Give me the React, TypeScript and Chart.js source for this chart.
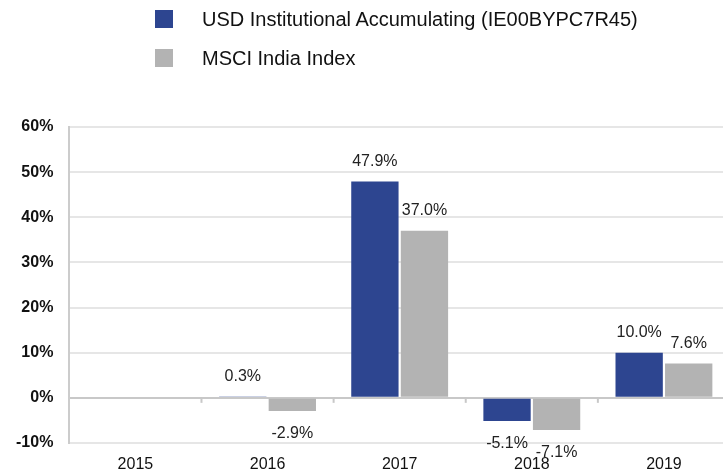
import React, { useEffect, useRef } from "react";
import { Chart, registerables } from "chart.js";

Chart.register(...registerables);

const categories = ["2015", "2016", "2017", "2018", "2019"];
const fundLabel = "USD Institutional Accumulating (IE00BYPC7R45)";
const indexLabel = "MSCI India Index";
const fundReturns: (number | null)[] = [null, 0.3, 47.9, -5.1, 10.0];
const indexReturns: (number | null)[] = [null, -2.9, 37.0, -7.1, 7.6];
const yMin = -10;
const yMax = 60;
const yStep = 10;

const BLUE = "#2d4590";
const GRAY = "#b3b3b3";
const FONT = "'Liberation Sans', Arial, Helvetica, sans-serif";

const valueLabels = {
  id: "valueLabels",
  afterDatasetsDraw(chart: any) {
    const ctx = chart.ctx;
    ctx.save();
    ctx.font = `16px ${FONT}`;
    ctx.fillStyle = "#222";
    ctx.textAlign = "center";
    ctx.textBaseline = "middle";
    chart.data.datasets.forEach((ds: any, di: number) => {
      const meta = chart.getDatasetMeta(di);
      meta.data.forEach((el: any, i: number) => {
        const v = ds.data[i];
        if (v === null || v === undefined) return;
        const y = v >= 0 ? el.y - 20 : el.y + 23;
        ctx.fillText(v.toFixed(1) + "%", el.x, y);
      });
    });
    ctx.restore();
  },
};

const extras = {
  id: "extras",
  afterDraw(chart: any) {
    const ctx = chart.ctx;
    const x = chart.scales.x;
    const y = chart.scales.y;
    const y0 = y.getPixelForValue(0);
    ctx.save();
    ctx.strokeStyle = "#c8c8c8";
    ctx.lineWidth = 2;
    const n = categories.length;
    const step = (x.right - x.left) / n;
    for (let i = 1; i <= n; i++) {
      const px = x.left + step * i;
      ctx.beginPath();
      ctx.moveTo(px, y0);
      ctx.lineTo(px, y0 + 5);
      ctx.stroke();
    }
    ctx.restore();
  },
};

export default function App() {
  const ref = useRef<HTMLCanvasElement>(null);
  useEffect(() => {
    if (!ref.current) return;
    const chart = new Chart(ref.current, {
      type: "bar",
      data: {
        labels: categories,
        datasets: [
          { label: fundLabel, data: fundReturns, backgroundColor: BLUE },
          { label: indexLabel, data: indexReturns, backgroundColor: GRAY },
        ],
      },
      options: {
        animation: false,
        responsive: false,
        devicePixelRatio: 1,
        layout: { padding: { top: 127, left: 0, right: 10, bottom: 0 } },
        datasets: { bar: { categoryPercentage: 0.75, barPercentage: 0.955 } },
        plugins: { legend: { display: false }, tooltip: { enabled: false } },
        scales: {
          x: {
            grid: { display: false },
            border: { display: false },
            ticks: { color: "#111", font: { family: FONT, size: 16 }, padding: 4 },
            afterFit: (scale: any) => {
              scale.height = 30;
            },
          },
          y: {
            min: yMin,
            max: yMax,
            ticks: {
              stepSize: yStep,
              color: "#111",
              padding: 16,
              font: { family: FONT, size: 16, weight: "bold" },
              callback: (v: any) => `${v}%`,
            },
            grid: {
              drawTicks: false,
              lineWidth: 2,
              color: (c: any) => (c.tick && c.tick.value === 0 ? "#c8c8c8" : "#e6e6e6"),
            },
            border: { color: "#cccccc", width: 2 },
          },
        },
      },
      plugins: [valueLabels, extras],
    } as any);
    return () => chart.destroy();
  }, []);

  const legendItem = (color: string, label: string, top: number) => (
    <div style={{ position: "absolute", left: 0, top, height: 20, width: 723 }}>
      <div style={{ position: "absolute", left: 155, top: 1, width: 18, height: 18, background: color }} />
      <div
        style={{
          position: "absolute",
          left: 202,
          top: 0,
          lineHeight: "20px",
          fontSize: 20,
          fontFamily: FONT,
          color: "#111",
          whiteSpace: "nowrap",
        }}
      >
        {label}
      </div>
    </div>
  );

  return (
    <div style={{ position: "fixed", left: 0, top: 0, width: 723, height: 473, background: "#fff", overflow: "hidden" }}>
      <canvas ref={ref} width={740} height={473} style={{ position: "absolute", left: 0, top: 0 }} />
      {legendItem(BLUE, fundLabel, 9)}
      {legendItem(GRAY, indexLabel, 48)}
    </div>
  );
}
